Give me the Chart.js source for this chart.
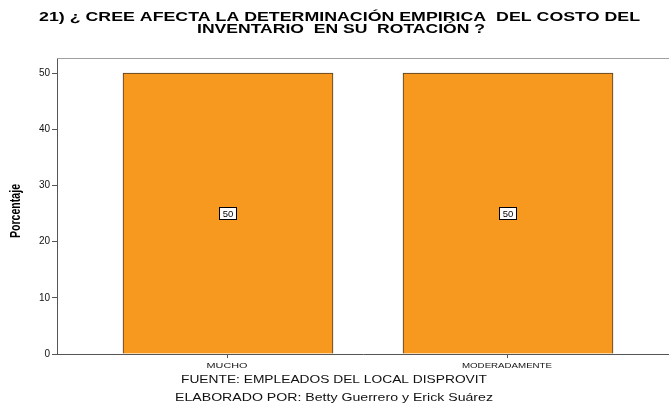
<!DOCTYPE html>
<html><head><meta charset="utf-8">
<script src="https://cdn.jsdelivr.net/npm/chart.js@4/dist/chart.umd.min.js"></script>
<style>html,body{margin:0;padding:0;background:#fff}#wrap{width:669px;height:403px}</style>
</head><body><div id="wrap"><canvas id="c" width="669" height="403"></canvas></div>
<script>
const categories = ['MUCHO', 'MODERADAMENTE'];
const values = [50, 50];
const yTicks = [0, 10, 20, 30, 40, 50];
const titleLines = ['21) ¿ CREE AFECTA LA DETERMINACIÓN EMPIRICA  DEL COSTO DEL', 'INVENTARIO  EN SU  ROTACIÓN ?'];
const footerLines = ['FUENTE: EMPLEADOS DEL LOCAL DISPROVIT', 'ELABORADO POR: Betty Guerrero y Erick Suárez'];
const yTitle = 'Porcentaje';

function fitText(ctx, text, x, y, width, font, align) {
  ctx.save();
  ctx.font = font;
  const w = ctx.measureText(text).width;
  const sx = width / w;
  ctx.textAlign = 'left';
  ctx.textBaseline = 'middle';
  const left = align === 'left' ? x : x - width / 2;
  ctx.translate(left, y);
  ctx.scale(sx, 1);
  ctx.fillText(text, 0, 0);
  ctx.restore();
}

const textPlugin = {
  id: 'texts',
  afterDraw(chart) {
    const ctx = chart.ctx, ca = chart.chartArea;
    ctx.save();
    ctx.strokeStyle = '#a0a0a0'; ctx.lineWidth = 1;
    ctx.beginPath(); ctx.moveTo(ca.left, ca.top + 0.5); ctx.lineTo(chart.width, ca.top + 0.5); ctx.stroke();
    ctx.fillStyle = '#000';
    const tf = 'bold 12px "Liberation Sans", Arial, sans-serif';
    fitText(ctx, titleLines[0], 39, 18, 601, tf, 'left');
    fitText(ctx, titleLines[1], 197, 30, 288, tf, 'left');
    ctx.fillStyle = '#111';
    const ff = '10.5px "Liberation Sans", Arial, sans-serif';
    fitText(ctx, footerLines[0], 181, 380.5, 306, ff, 'left');
    fitText(ctx, footerLines[1], 175, 398, 318, ff, 'left');
    // category labels
    const xs = chart.scales.x;
    const cf = '8px "Liberation Sans", Arial, sans-serif';
    const cw = [41, 90];
    categories.forEach((c, i) => {
      fitText(ctx, c, xs.getPixelForValue(i) - 1, 366, cw[i], cf, 'center');
    });
    // y title
    ctx.save();
    ctx.translate(16, 211); ctx.rotate(-Math.PI / 2);
    ctx.fillStyle = '#000';
    fitText(ctx, yTitle, 0, 0, 54, 'bold 14px "Liberation Sans Narrow", "Arial Narrow", "Liberation Sans", sans-serif', 'center');
    ctx.restore();
    // data labels
    const meta = chart.getDatasetMeta(0);
    ctx.font = '9.5px "Liberation Sans", Arial, sans-serif';
    ctx.textAlign = 'center'; ctx.textBaseline = 'middle';
    meta.data.forEach((bar, i) => {
      const cx = bar.x, cy = (bar.y + bar.base) / 2;
      const w = 18, h = 13;
      ctx.fillStyle = '#fff'; ctx.fillRect(Math.round(cx - w / 2), Math.round(cy - h / 2), w, h);
      ctx.strokeStyle = '#000'; ctx.lineWidth = 1;
      ctx.strokeRect(Math.round(cx - w / 2) + 0.5, Math.round(cy - h / 2) + 0.5, w - 1, h - 1);
      ctx.fillStyle = '#000';
      ctx.fillText(String(values[i]), cx, cy + 1);
    });
    ctx.restore();
  }
};

new Chart(document.getElementById('c'), {
  type: 'bar',
  data: {
    datasets: [{
      data: categories.map((c, i) => ({ x: i, y: values[i] })),
      backgroundColor: '#F7981F',
      borderColor: '#4a3a26',
      borderWidth: 1,
      barThickness: 210
    }]
  },
  options: {
    responsive: false,
    animation: false,
    layout: { padding: { top: 58, left: 0, right: 0, bottom: 0 } },
    plugins: { legend: { display: false }, tooltip: { enabled: false } },
    scales: {
      x: {
        type: 'linear', min: -0.6107, max: 1.575, offset: false,
        afterBuildTicks: s => { s.ticks = categories.map((c, i) => ({ value: i })); },
        afterFit: s => { s.height = 49; },
        ticks: { display: false, autoSkip: false },
        grid: { drawOnChartArea: false, drawTicks: true, tickLength: 4, color: '#555', offset: false },
        border: { display: true, color: '#555', width: 1 }
      },
      y: {
        min: 0, max: 52.67,
        afterBuildTicks: s => { s.ticks = yTicks.map(v => ({ value: v })); },
        afterFit: s => { s.width = 57; },
        ticks: { font: { size: 10, family: '"Liberation Sans", Arial' }, color: '#111', padding: 2 },
        grid: { drawOnChartArea: false, drawTicks: true, tickLength: 5, color: '#555' },
        border: { display: true, color: '#555', width: 1 }
      }
    }
  },
  plugins: [textPlugin]
});
</script></body></html>
